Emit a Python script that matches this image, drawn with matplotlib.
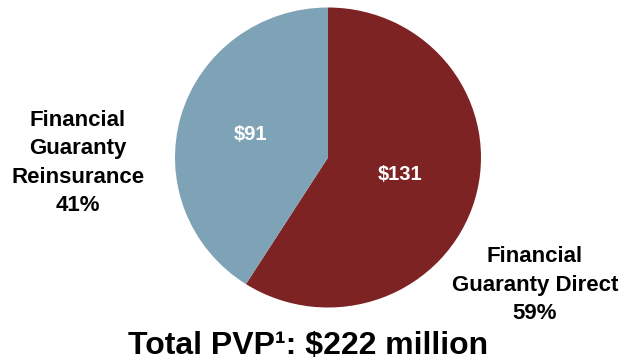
import matplotlib
matplotlib.use("Agg")
import matplotlib.pyplot as plt

plt.rcParams['font.family'] = ['Liberation Sans', 'DejaVu Sans']

categories = ["Financial\nGuaranty Direct", "Financial\nGuaranty\nReinsurance"]
values = [131, 91]
colors = ["#7E2323", "#7FA3B6"]
title = "Total PVP\u00b9: $222 million"

W, H = 622, 361
fig = plt.figure(figsize=(W / 100, H / 100), dpi=100)
cx, cy, rx, ry = 328, 157.5, 153, 150
ax = fig.add_axes([(cx - rx) / W, (H - cy - ry) / H, 2 * rx / W, 2 * ry / H])
total = sum(values)
wedges, _ = ax.pie(values, colors=colors, startangle=90, counterclock=False,
                   radius=1, wedgeprops=dict(linewidth=0))
ax.set_xlim(-1, 1)
ax.set_ylim(-1, 1)
ax.set_aspect('auto')
ax.axis('off')

def fx(px):
    return px / W

def fy(py):
    return 1 - py / H

# value labels inside wedges
inner_pos = [(400, 174), (250, 135)]
for v, (px, py) in zip(values, inner_pos):
    fig.text(fx(px), fy(py), f"${v}", color="white", fontsize=14.5,
             fontweight="bold", ha="center", va="center")

outer_pos = [(535, 285), (78, 163)]
for c, v, (px, py) in zip(categories, values, outer_pos):
    pct = round(v / total * 100)
    fig.text(fx(px), fy(py), f"{c}\n{pct}%", color="black", fontsize=16,
             fontweight="bold", ha="center", va="center", linespacing=1.45)

fig.text(fx(308), fy(346), title, fontsize=23, fontweight="bold",
         ha="center", va="center")

fig.savefig("out.png", dpi=100, facecolor="white")
